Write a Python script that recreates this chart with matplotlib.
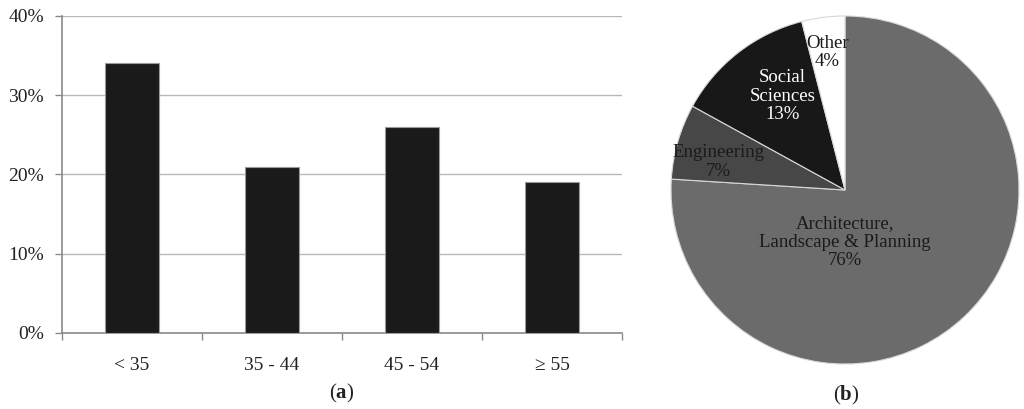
import matplotlib
matplotlib.use("Agg")
import matplotlib.pyplot as plt
from matplotlib.ticker import FixedLocator, PercentFormatter

plt.rcParams['font.family'] = ['Liberation Serif', 'DejaVu Serif']
plt.rcParams['mathtext.fontset'] = 'custom'
plt.rcParams['mathtext.rm'] = 'Liberation Serif'
plt.rcParams['mathtext.bf'] = 'Liberation Serif:bold'

# (a) age groups
age_groups = ['< 35', '35 - 44', '45 - 54', '\u2265 55']
age_share = [34, 21, 26, 19]

# (b) disciplines
disciplines = ['Architecture,\nLandscape & Planning', 'Engineering',
               'Social\nSciences', 'Other']
disc_share = [76, 7, 13, 4]
disc_colors = ['#6b6b6b', '#474747', '#181818', '#ffffff']
disc_text = ['#1a1a1a', '#1a1a1a', '#ffffff', '#1a1a1a']
label_pos = [(0.0, -0.30), (-0.73, 0.16), (-0.36, 0.54), (-0.10, 0.79)]

fig = plt.figure(figsize=(10.24, 4.09), dpi=100)

# ---- bar chart
ax = fig.add_axes([0.0605, 0.186, 0.547, 0.775])
x = range(len(age_groups))
ax.bar(x, age_share, width=0.39, color='#1a1a1a', edgecolor='#9a9a9a',
       linewidth=0.8, zorder=3)
ax.set_xlim(-0.5, len(age_groups) - 0.5)
ax.set_ylim(0, 40)
ax.set_yticks([0, 10, 20, 30, 40])
ax.yaxis.set_major_formatter(PercentFormatter(decimals=0))
ax.grid(axis='y', color='#b8b8b8', linewidth=1.0, zorder=0)
ax.set_xticks(list(x))
ax.set_xticklabels(age_groups)
ax.xaxis.set_minor_locator(FixedLocator([i - 0.5 for i in range(len(age_groups) + 1)]))
ax.tick_params(axis='x', which='major', length=0, pad=17, labelsize=14, labelcolor='#222222')
ax.tick_params(axis='x', which='minor', length=5, width=1.0, color='#8a8a8a', direction='out')
ax.tick_params(axis='y', length=5, width=1.0, color='#8a8a8a', pad=8, labelsize=14,
               labelcolor='#222222')
for s in ['top', 'right']:
    ax.spines[s].set_visible(False)
for s in ['left', 'bottom']:
    ax.spines[s].set_color('#8a8a8a')
    ax.spines[s].set_linewidth(1.2)
fig.text(342 / 1024, 1 - 393 / 409, r'($\mathbf{a}$)', ha='center', va='center',
         fontsize=15, color='#222222')

# ---- pie chart
cx, cy, r = 845, 190, 174
W, H = 1024, 409
pax = fig.add_axes([(cx - r) / W, 1 - (cy + r) / H, 2 * r / W, 2 * r / H])
wedges, _ = pax.pie(disc_share, colors=disc_colors, startangle=90, counterclock=False,
                    wedgeprops=dict(edgecolor='#d8d8d8', linewidth=0.8))
for lab, pct, (tx, ty), col in zip(disciplines, disc_share, label_pos, disc_text):
    pax.text(tx, ty, '%s\n%d%%' % (lab, pct), ha='center', va='center',
             fontsize=13.5, color=col, linespacing=1.12)
pax.set_xlim(-1, 1)
pax.set_ylim(-1, 1)
pax.set_aspect('auto')
pax.axis('off')
fig.text(846 / 1024, 1 - 395 / 409, r'($\mathbf{b}$)', ha='center', va='center',
         fontsize=15, color='#222222')

fig.savefig('out.png', dpi=100)
